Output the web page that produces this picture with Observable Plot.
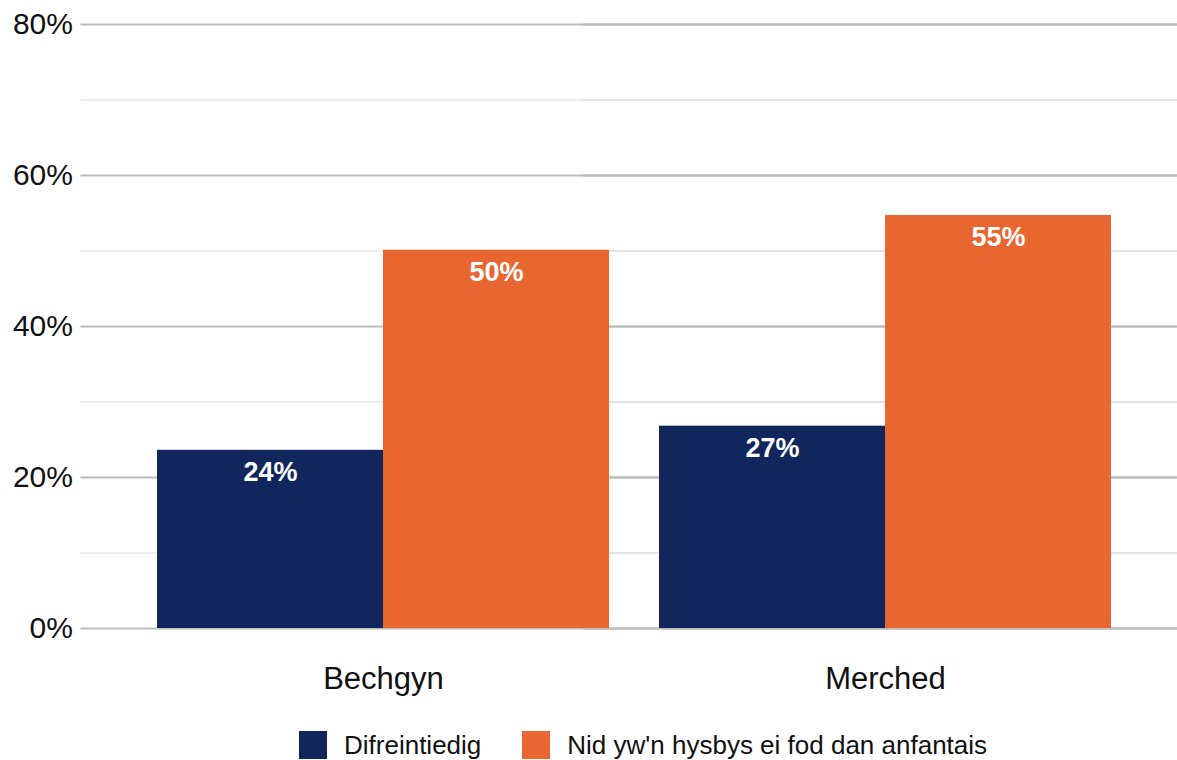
<!DOCTYPE html>
<html><head><meta charset="utf-8">
<script src="https://cdn.jsdelivr.net/npm/d3@7"></script>
<script src="https://cdn.jsdelivr.net/npm/@observablehq/plot@0.6"></script>
<style>
html,body{margin:0;padding:0;background:#fff;overflow:hidden;}
body{font-family:Arial,"Liberation Sans",sans-serif;color:#111;}
#chart{height:712px;}
#chart svg{overflow:visible;display:block;}
#legend{display:flex;align-items:flex-start;padding-left:299px;margin-top:19px;font-size:26px;line-height:28px;}
.item{display:flex;align-items:flex-start;margin-right:41px;}
.sw{width:28px;height:28px;margin-right:17px;flex:none;}
</style></head><body>
<div id="chart"></div>
<div id="legend"></div>
<script>
const categories = ["Bechgyn", "Merched"];
const seriesNames = ["Difreintiedig", "Nid yw'n hysbys ei fod dan anfantais"];
const difreintiedig = [0.236, 0.268];
const nidYwnHysbys = [0.501, 0.547];
const majorTicks = [0, 0.2, 0.4, 0.6, 0.8];
const minorTicks = [0.1, 0.3, 0.5, 0.7];
const colors = ["#11265c", "#e96630"];

const pct = d3.format(".0%");
const data = categories.flatMap((c, i) => [
  {cat: c, series: seriesNames[0], value: difreintiedig[i]},
  {cat: c, series: seriesNames[1], value: nidYwnHysbys[i]}
]);

const W = 1177, ML = 80, MR = 0;
const fxOpts = {paddingInner: 0.1, paddingOuter: 0.141, align: 0.54};
// replicate the facet band layout so the grid can span the whole frame
const band = d3.scaleBand().domain(categories).range([ML, W - MR])
  .paddingInner(fxOpts.paddingInner).paddingOuter(fxOpts.paddingOuter).align(fxOpts.align);
const extL = band(categories[0]) - ML;
const extR = (W - MR) - (band(categories[categories.length - 1]) + band.bandwidth());

const chart = Plot.plot({
  width: W, height: 712,
  marginLeft: ML, marginRight: MR, marginTop: 24, marginBottom: 84,
  style: {fontFamily: "Arial, 'Liberation Sans', sans-serif", fontSize: "31px", color: "#111", background: "#fff", overflow: "visible"},
  fx: {domain: categories, ...fxOpts, label: null, axis: "bottom", tickSize: 0, tickPadding: 38},
  x: {domain: seriesNames, padding: 0, axis: null},
  y: {domain: [0, 0.8], axis: null},
  color: {domain: seriesNames, range: colors},
  marks: [
    Plot.ruleY(minorTicks, {stroke: "#dadada", strokeWidth: 1, insetLeft: -extL, insetRight: -extR - band.step()}),
    Plot.ruleY(majorTicks, {stroke: "#bcbcbc", strokeWidth: 2, insetLeft: -extL, insetRight: -extR - band.step()}),
    Plot.text(majorTicks, {y: d => d, text: d => pct(d), frameAnchor: "left", textAnchor: "end", dx: -extL - 8, fontSize: 30, fill: "#111", facetAnchor: "left"}),
    Plot.barY(data, {fx: "cat", x: "series", y: "value", fill: "series"}),
    Plot.text(data, {fx: "cat", x: "series", y: "value", text: d => pct(d.value), dy: 22, fill: "white", fontWeight: "bold", fontSize: 27})
  ]
});
document.getElementById("chart").appendChild(chart);

const legend = document.getElementById("legend");
seriesNames.forEach((name, i) => {
  const item = document.createElement("div");
  item.className = "item";
  const sw = document.createElement("div");
  sw.className = "sw";
  sw.style.background = colors[i];
  const label = document.createElement("span");
  label.textContent = name;
  item.appendChild(sw);
  item.appendChild(label);
  legend.appendChild(item);
});
</script>
</body></html>
